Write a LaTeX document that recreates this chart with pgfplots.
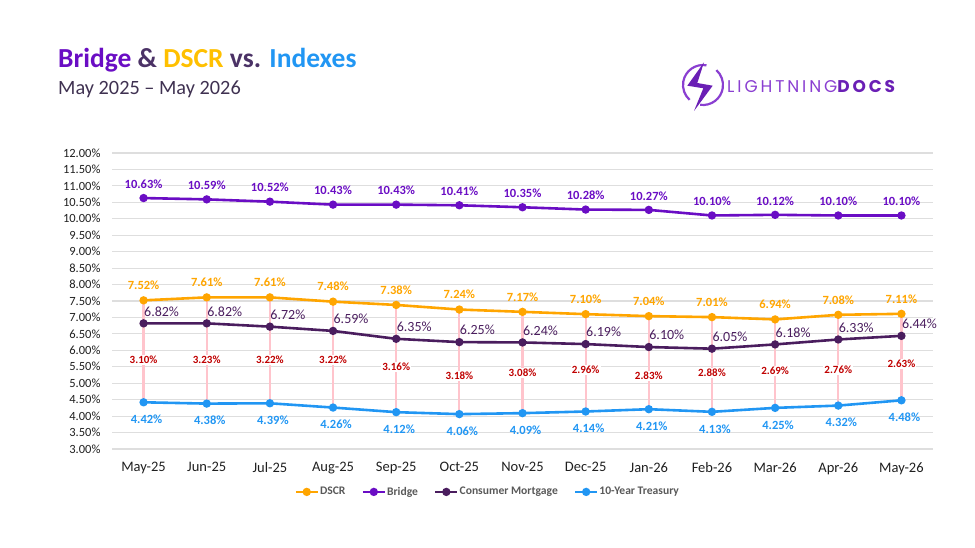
\documentclass[border=0pt]{standalone}
\usepackage{fontspec}
\setmainfont{Carlito}
\newfontfamily\logofont{Poppins}
\usepackage{pgfplots}
\usepackage{pgfplotstable}
\pgfplotsset{compat=1.18}

\definecolor{dscr}{HTML}{FFA500}
\definecolor{bridge}{HTML}{6A0DC4}
\definecolor{mort}{HTML}{4A1D5E}
\definecolor{tsy}{HTML}{2196F3}
\definecolor{spreadred}{HTML}{C00000}
\definecolor{spreadpink}{HTML}{FFC4CC}
\definecolor{gridgray}{HTML}{DEDEDE}
\definecolor{titlegold}{HTML}{FFC000}
\definecolor{titledark}{HTML}{4B3266}
\definecolor{subdark}{HTML}{3F3151}
\definecolor{logolight}{HTML}{8A3FD1}
\definecolor{logodark}{HTML}{6A1FB5}
\definecolor{legendgray}{HTML}{595959}

% Monthly rates (%), spread = DSCR minus 10-year Treasury, ly = spread label height
\pgfplotstableread{
x  dscr  bridge  mort  tsy   spread  ly
0  7.52  10.63   6.82  4.42  3.10    5.71
1  7.61  10.59   6.82  4.38  3.23    5.71
2  7.61  10.52   6.72  4.39  3.22    5.71
3  7.48  10.43   6.59  4.26  3.22    5.71
4  7.38  10.43   6.35  4.12  3.16    5.50
5  7.24  10.41   6.25  4.06  3.18    5.22
6  7.17  10.35   6.24  4.09  3.08    5.31
7  7.10  10.28   6.19  4.14  2.96    5.40
8  7.04  10.27   6.10  4.21  2.83    5.22
9  7.01  10.10   6.05  4.13  2.88    5.31
10 6.94  10.12   6.18  4.25  2.69    5.37
11 7.08  10.10   6.33  4.32  2.76    5.40
12 7.11  10.10   6.44  4.48  2.63    5.59
}\rates

\newcommand{\pct}{\pgfmathprintnumber[fixed,fixed zerofill,precision=2]{\pgfplotspointmeta}\%}

\begin{document}
\begin{tikzpicture}[x=1pt,y=1pt]
\path[use as bounding box] (0,0) rectangle (975,548);

% title block
\node[anchor=base west, inner sep=0] at (58,480)
  {\fontsize{27.5}{28}\selectfont\bfseries
   \textcolor{bridge}{Bridge} \textcolor{titledark}{\&} \textcolor{titlegold}{DSCR}
   \textcolor{titledark}{vs.} \textcolor{tsy}{Indexes}};
\node[anchor=base west, inner sep=0, text=subdark] at (58,453)
  {\fontsize{20.3}{21}\selectfont May 2025 -- May 2026};

% logo
\draw[logolight, line width=2.2pt] (703,463) ++(80:20) arc[start angle=80, end angle=228, radius=20];
\draw[logolight, line width=2.2pt] (703,463) ++(262:20) arc[start angle=262, end angle=408, radius=20];
\fill[logodark] (704,485.7) -- (687.3,462.3) -- (703.3,459.7) -- (694,437) -- (712.7,462.3) -- (697.3,465) -- cycle;
\node[anchor=west, inner sep=0] at (727,461)
  {{\logofont\fontsize{17}{17}\selectfont\addfontfeature{LetterSpace=17}\color{logolight}LIGHTNING}{\logofont\fontsize{17}{17}\selectfont\bfseries\addfontfeature{LetterSpace=17}\color{logodark}DOCS}};

\begin{axis}[
  at={(112pt,99pt)}, anchor=south west, scale only axis,
  width=821pt, height=296pt,
  xmin=-0.5, xmax=12.5, ymin=3, ymax=12,
  xtick={0,...,12},
  xticklabels={May-25,Jun-25,Jul-25,Aug-25,Sep-25,Oct-25,Nov-25,Dec-25,Jan-26,Feb-26,Mar-26,Apr-26,May-26},
  ytick distance=0.5,
  yticklabel={\pgfmathprintnumber[fixed,fixed zerofill,precision=2]{\tick}\%},
  /pgf/number format/assume math mode=true,
  ymajorgrids, grid style={gridgray, line width=1.2pt},
  axis line style={draw=none}, major tick length=0pt,
  xticklabel style={font=\fontsize{14.5}{15}\selectfont, text=black!88, yshift=-10pt},
  yticklabel style={font=\fontsize{12.5}{13}\selectfont, text=black!88, xshift=-8pt},
  clip=false,
  legend columns=4,
  legend style={draw=none, fill=none, at={(0.457,-0.145)}, anchor=center,
    font=\fontsize{11.6}{12}\selectfont\bfseries, text=legendgray,
    /tikz/every even column/.append style={column sep=15pt},
    nodes={inner sep=1pt}},
  legend image code/.code={\draw[mark repeat=2,mark phase=2,#1] plot coordinates {(0pt,0pt) (11pt,0pt) (22pt,0pt)};},
]

% spread lines between DSCR and Treasury
\addplot[draw=none, mark=none, forget plot,
  error bars/.cd, y dir=minus, y explicit, error mark=none,
  error bar style={spreadpink, line width=2.2pt}]
  table[x=x, y=dscr, y error minus expr=\thisrow{dscr}-\thisrow{tsy}] {\rates};

\addplot[dscr, line width=2.6pt, mark=*, mark size=2.8pt,
  nodes near coords=\pct,
  every node near coord/.style={anchor=center, yshift=15pt, text=dscr,
    font=\fontsize{12.5}{13}\selectfont\bfseries}]
  table[x=x, y=dscr] {\rates};
\addlegendentry{DSCR}

\addplot[bridge, line width=2.6pt, mark=*, mark size=2.8pt,
  nodes near coords=\pct,
  every node near coord/.style={anchor=center, yshift=14pt, text=bridge,
    font=\fontsize{12.5}{13}\selectfont\bfseries}]
  table[x=x, y=bridge] {\rates};
\addlegendentry{Bridge}

\addplot[mort, line width=2.6pt, mark=*, mark size=2.8pt,
  nodes near coords=\pct,
  every node near coord/.style={anchor=center, xshift=18pt, yshift=12pt, text=mort,
    font=\fontsize{14}{14}\selectfont}]
  table[x=x, y=mort] {\rates};
\addlegendentry{Consumer Mortgage}

\addplot[tsy, line width=2.6pt, mark=*, mark size=2.8pt,
  nodes near coords=\pct,
  every node near coord/.style={anchor=center, xshift=3pt, yshift=-17pt, text=tsy,
    font=\fontsize{12.5}{13}\selectfont\bfseries}]
  table[x=x, y=tsy] {\rates};
\addlegendentry{10-Year Treasury}

% spread labels
\addplot[draw=none, mark=none, forget plot,
  point meta=\thisrow{spread},
  nodes near coords=\pct,
  every node near coord/.style={anchor=center, fill=white, inner sep=1pt, text=spreadred,
    font=\fontsize{11}{11}\selectfont\bfseries}]
  table[x=x, y=ly] {\rates};

\end{axis}
\end{tikzpicture}
\end{document}
